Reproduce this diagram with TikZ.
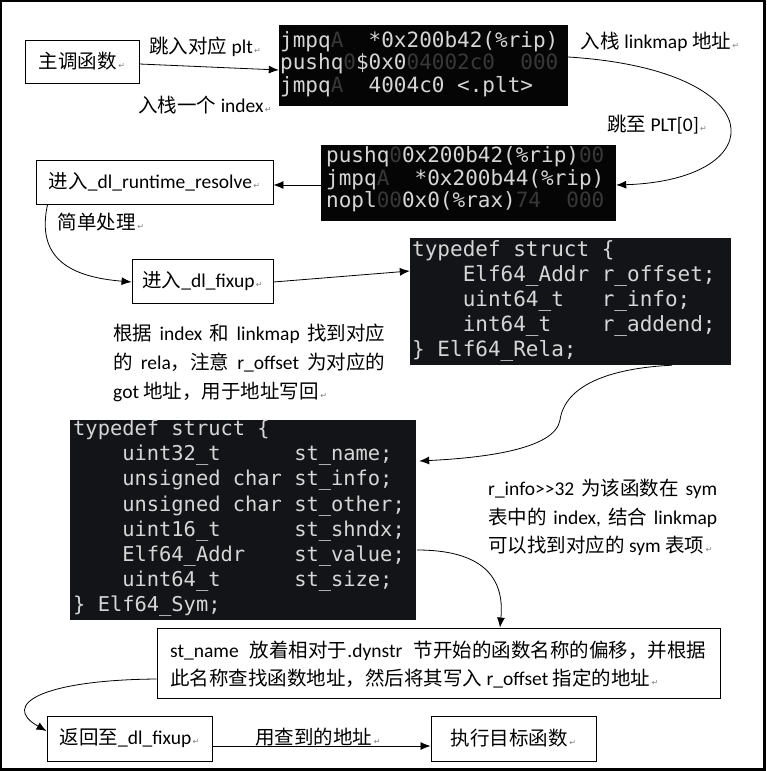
\documentclass[tikz,border=0pt]{standalone}
\usepackage{fontspec}
\setmainfont{Carlito}
\newfontfamily\cjk{Noto Sans CJK SC}
\newfontfamily\codefont{DejaVu Sans Mono}
\newfontfamily\markfont{DejaVu Sans}
\usetikzlibrary{arrows.meta}
\definecolor{codebg}{HTML}{050505}
\definecolor{structbg}{HTML}{121418}
\definecolor{codefg}{HTML}{D6D6D6}
\definecolor{ghost}{HTML}{383838}
\newcommand\pmark{{\markfont\fontsize{8}{8}\selectfont\color{black!50}\,↵}}
\newcommand\gh[1]{{\color{ghost}#1}}
\newcommand\zh[1]{{\cjk #1}}
\tikzset{
  bx/.style={draw, line width=0.9pt, inner sep=0pt, font=\fontsize{19.5}{23}\selectfont},
  lbl/.style={inner sep=0pt, font=\fontsize{19.5}{23}\selectfont},
  tl/.style={inner sep=0pt, anchor=west, text height=17.2pt, text depth=2.3pt, font=\fontsize{19.5}{23}\selectfont},
  cb/.style={fill=codebg, draw=none, inner sep=0pt},
  sb/.style={fill=structbg, draw=none, inner sep=0pt},
  cl/.style={inner sep=0pt, anchor=base west, text=codefg, font=\codefont\fontsize{21}{25}\selectfont},
  sl/.style={inner sep=0pt, anchor=base west, text=codefg, font=\codefont\fontsize{20.4}{25}\selectfont},
  arr/.style={-{Latex[length=10pt,width=8pt]}, line width=0.8pt},
}
\begin{document}
\begin{tikzpicture}[x=1pt,y=-1pt]
\useasboundingbox (0,0) rectangle (766,771);
\fill[white] (0,0) rectangle (766,771);

% code blocks
\node[cb, minimum width=289pt, minimum height=81pt] (code1) at (423.5,65.5) {};
\node[cb, minimum width=295pt, minimum height=76pt] (code2) at (468.5,183) {};
\node[sb, minimum width=321pt, minimum height=127pt] (rela) at (570.5,301.5) {};
\node[sb, minimum width=346pt, minimum height=200pt] (sym) at (243,520) {};

\node[cl] (c1a) at (280,47) {jmpq\gh{A}~~*0x200b42(\%rip)};
\node[cl] (c1b) at (280,69.5) {pushq\gh{0}\$0x0\gh{04002c0~~000}};
\node[cl] (c1c) at (280,92) {jmpq\gh{A}~~4004c0 <.plt>};

\node[cl] (c2a) at (326,162.5) {pushq\gh{0}0x200b42(\%rip)\gh{00}};
\node[cl] (c2b) at (326,185) {jmpq\gh{A}~~*0x200b44(\%rip)};
\node[cl] (c2c) at (326,207.5) {nopl\gh{00}0x0(\%rax)\gh{74~~000}};

\node[cl] (r1) at (412,256.5) {typedef struct \{};
\node[cl] (r2) at (412,281.5) {~~~~Elf64\_Addr r\_offset;};
\node[cl] (r3) at (412,306.5) {~~~~uint64\_t~~~r\_info;};
\node[cl] (r4) at (412,331.5) {~~~~int64\_t~~~~r\_addend;};
\node[cl] (r5) at (412,356.5) {\} Elf64\_Rela;};

\node[sl] (s1) at (73,435.5) {typedef struct \{};
\node[sl] (s2) at (73,460.7) {~~~~uint32\_t~~~~~~st\_name;};
\node[sl] (s3) at (73,485.9) {~~~~unsigned char st\_info;};
\node[sl] (s4) at (73,511.1) {~~~~unsigned char st\_other;};
\node[sl] (s5) at (73,536.3) {~~~~uint16\_t~~~~~~st\_shndx;};
\node[sl] (s6) at (73,561.5) {~~~~Elf64\_Addr~~~~st\_value;};
\node[sl] (s7) at (73,586.7) {~~~~uint64\_t~~~~~~st\_size;};
\node[sl] (s8) at (73,611.9) {\} Elf64\_Sym;};

% boxes
\node[bx, minimum width=114pt, minimum height=43pt] (main) at (82,61.5) {\zh{主调函数}\pmark};
\node[bx, minimum width=237pt, minimum height=44pt] (resolve) at (154.5,182) {\zh{进入}\_dl\_runtime\_resolve\pmark};
\node[bx, minimum width=141pt, minimum height=44pt] (fixup) at (202.5,281) {\zh{进入}\_dl\_fixup\pmark};
\node[bx, minimum width=563pt, minimum height=70pt] (stname) at (438.5,663) {};
\node[bx, minimum width=165pt, minimum height=45pt] (ret) at (129.5,738.5) {\zh{返回至}\_dl\_fixup\pmark};
\node[bx, minimum width=165pt, minimum height=45pt] (exec) at (513.5,738.5) {\zh{执行目标函数}\pmark};

\node[tl] (st1) at (170,650) {\makebox[536pt][s]{st\_name \zh{放着相对于}.dynstr \zh{节开始的函数名称的偏移，并根据}}};
\node[tl] (st2) at (170,678) {\zh{此名称查找函数地址，然后将其写入} r\_offset \zh{指定的地址}\pmark};

% labels
\node[lbl] (l1) at (205,47) {\zh{跳入对应} plt\pmark};
\node[lbl] (l2) at (205,105) {\zh{入栈一个} index\pmark};
\node[lbl] (l3) at (660,42) {\zh{入栈} linkmap \zh{地址}\pmark};
\node[lbl] (l4) at (657,125) {\zh{跳至} PLT[0]\pmark};
\node[lbl] (l5) at (101,222) {\zh{简单处理}\pmark};
\node[lbl] (l6) at (318,737) {\zh{用查到的地址}\pmark};

\node[tl] (g1) at (113,333) {\makebox[272pt][s]{\zh{根据} index \zh{和} linkmap \zh{找到对应}}};
\node[tl] (g2) at (113,362) {\makebox[272pt][s]{\zh{的} rela\zh{，注意} r\_offset \zh{为对应的}}};
\node[tl] (g3) at (113,391) {got \zh{地址，用于地址写回}\pmark};

\node[tl] (i1) at (488,488) {\makebox[229pt][s]{r\_info>{}>32 \zh{为该函数在} sym}};
\node[tl] (i2) at (488,517) {\makebox[229pt][s]{\zh{表中的} index, \zh{结合} linkmap}};
\node[tl] (i3) at (488,545) {\zh{可以找到对应的} sym \zh{表项}\pmark};

% connectors
\draw[arr] ([yshift=-2.5pt]main.east) -- ([yshift=-4.5pt]code1.west);
\draw[arr] ([yshift=8.5pt]code1.east) .. controls +(207,13) and +(158,-5) .. ([yshift=-2pt]code2.east);
\draw[arr] ([yshift=-2pt]code2.west) -- ([yshift=-3pt]resolve.east);
\draw[arr] ([xshift=12pt]resolve.south west) .. controls +(-12,55) and +(-60,-5) .. ([yshift=-1pt]fixup.west);
\draw[arr] ([yshift=-1pt]fixup.east) -- ([yshift=30.5pt]rela.west);
\coordinate (m1) at (560,420);
\draw[arr] ([xshift=101.5pt]rela.south) .. controls +(-62,3) and +(5,-35) .. (m1) .. controls +(-5,30) and +(61,-3) .. ([xshift=3pt,yshift=59pt]sym.east);
\draw[arr] ([xshift=1pt,yshift=-30pt]sym.east) .. controls +(63,0) and +(5,-52) .. ([xshift=61.5pt]stname.north);
\draw[arr] ([yshift=-16pt]stname.west) .. controls +(-116,1) and +(-46,-26) .. ([yshift=7.5pt]ret.west);
\draw[arr] ([yshift=-7.5pt]ret.east) -- ([yshift=-7.5pt]exec.west);

% frame
\draw[line width=3pt] (0.5,0.5) rectangle (764.5,769.5);
\end{tikzpicture}
\end{document}
